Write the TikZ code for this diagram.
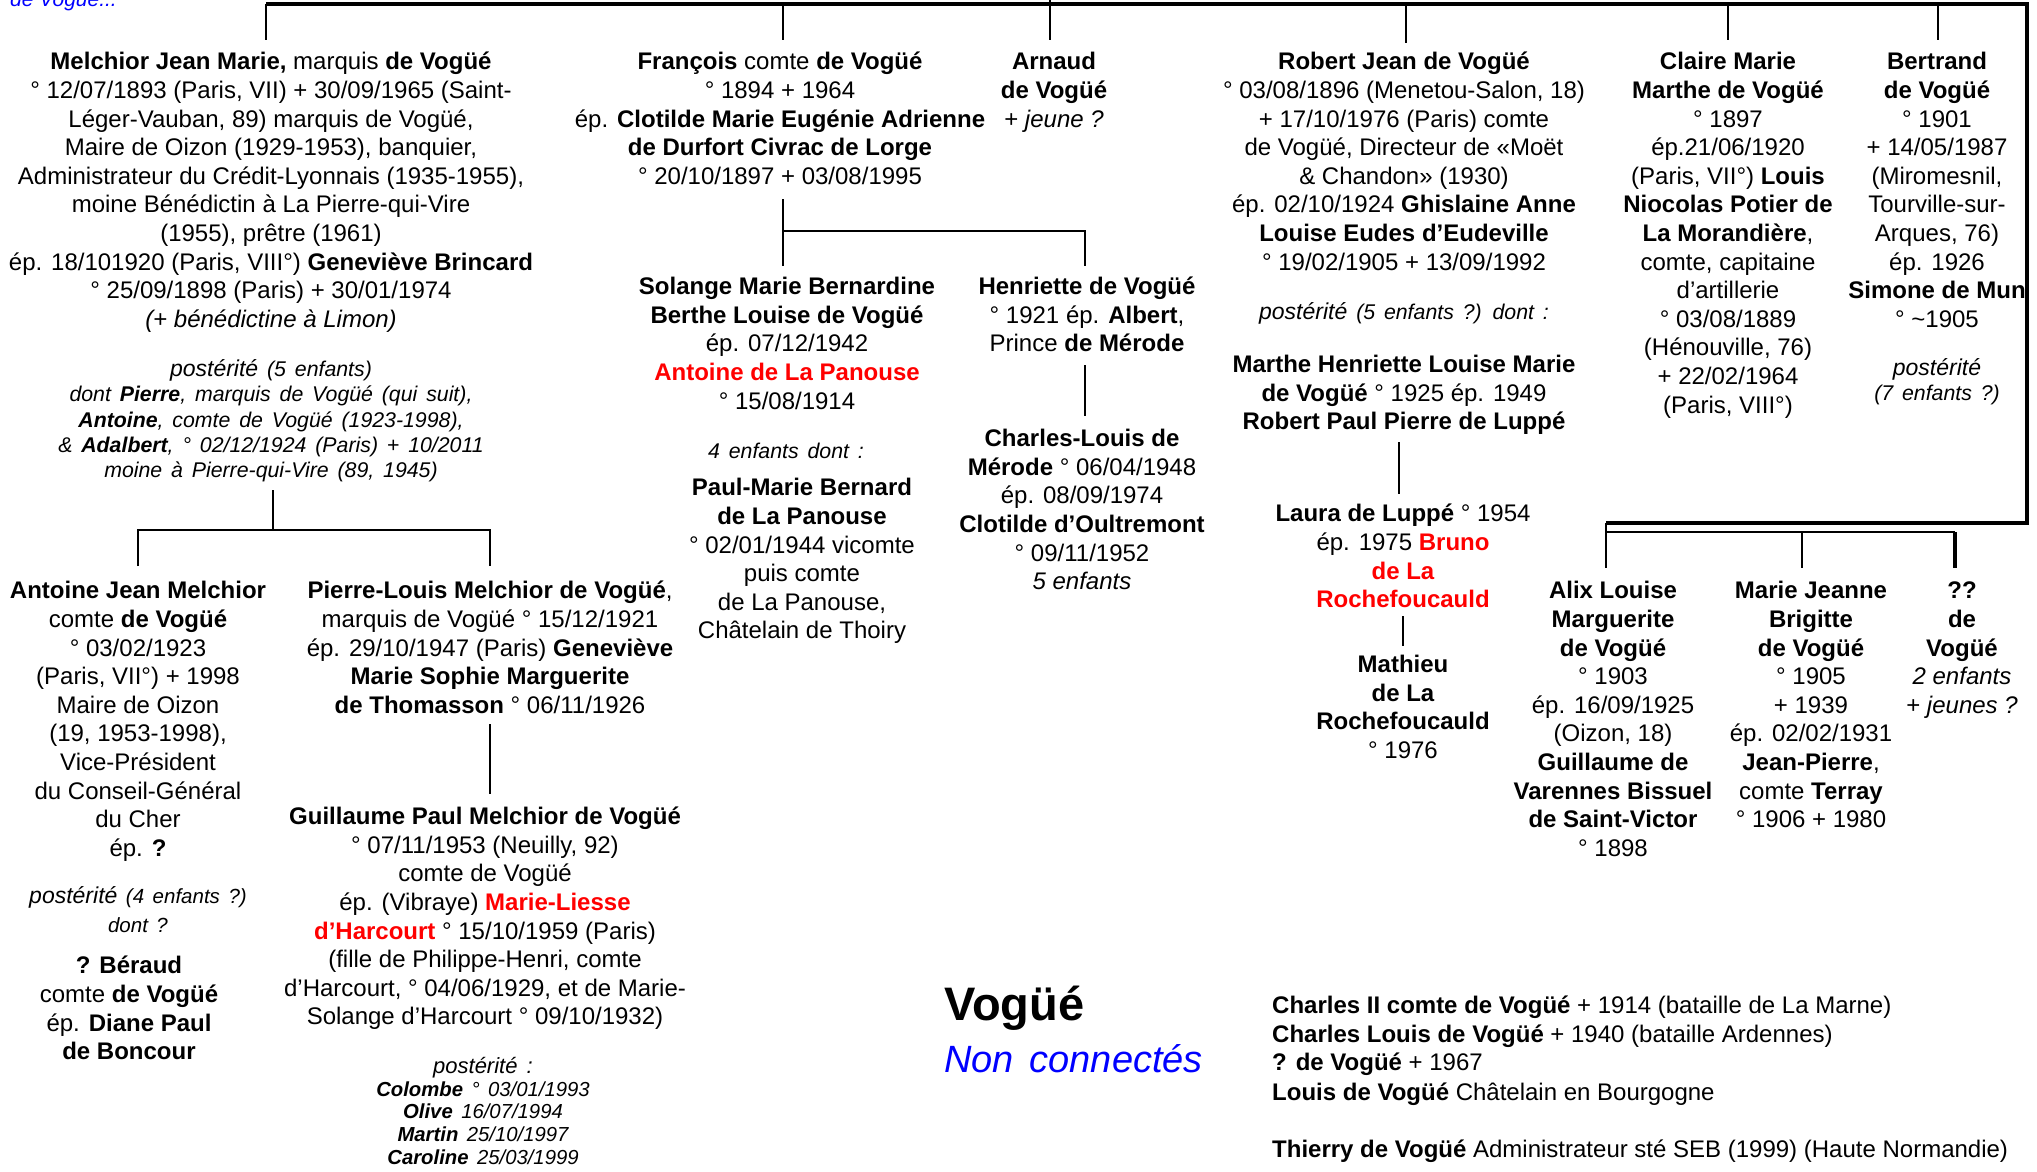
\documentclass[tikz,border=0pt]{standalone}
\usepackage{fontspec}
\setmainfont{Liberation Sans}
\newfontfamily\widefont{Liberation Sans}[WordSpace=1.5]
\definecolor{hred}{RGB}{255,0,0}
\definecolor{hblue}{RGB}{0,0,255}
\begin{document}
\begin{tikzpicture}[x=1pt,y=-1pt,
  txt/.style={align=center, inner sep=0pt, anchor=north, font=\fontsize{24}{28.6}\selectfont},
  post/.style={align=center, inner sep=0pt, anchor=north, font=\widefont\fontsize{21.3}{25.3}\selectfont\itshape},
  kid/.style={align=center, inner sep=0pt, anchor=north, font=\widefont\fontsize{20.3}{22.7}\selectfont\itshape},
  lone/.style={inner sep=0pt, anchor=base west, font=\fontsize{24}{28.6}\selectfont},
  ln/.style={line width=2.6pt},
  bus/.style={line width=3.6pt},
]
\useasboundingbox (0,0) rectangle (2037,1171);

% cut-off heading
\node[lone, font=\fontsize{21}{25}\selectfont\itshape, text=hblue] (cut) at (10,6) {de Vogüé...};

% ---------- generation 1 ----------
\node[txt] (mel) at (271,49.6) {\strut\textbf{Melchior Jean Marie,} marquis \textbf{de Vogüé}\\
° 12/07/1893 (Paris, VII) + 30/09/1965 (Saint-\\
Léger-Vauban, 89) marquis de Vogüé,\\
Maire de Oizon (1929-1953), banquier,\\
Administrateur du Crédit-Lyonnais (1935-1955),\\
moine Bénédictin à La Pierre-qui-Vire\\
(1955), prêtre (1961)\\
ép. 18/101920 (Paris, VIII°) \textbf{Geneviève Brincard}\\
° 25/09/1898 (Paris) + 30/01/1974\\
\textit{(+ bénédictine à Limon)}};
\node[post] (melp) at (271,358.5) {\strut{\fontsize{23}{25.3}\selectfont postérité} (5 enfants)\\
dont \textbf{Pierre}, marquis de Vogüé (qui suit),\\
\textbf{Antoine}, comte de Vogüé (1923-1998),\\
\& \textbf{Adalbert}, ° 02/12/1924 (Paris) + 10/2011\\
moine à Pierre-qui-Vire (89, 1945)};

\node[txt] (fra) at (780,49.6) {\strut\textbf{François} comte \textbf{de Vogüé}\\
° 1894 + 1964\\
ép. \textbf{Clotilde Marie Eugénie Adrienne}\\
\textbf{de Durfort Civrac de Lorge}\\
° 20/10/1897 + 03/08/1995};

\node[txt] (arn) at (1054,49.6) {\strut\textbf{Arnaud}\\ \textbf{de Vogüé}\\ + \textit{jeune ?}};

\node[txt] (rob) at (1404,49.6) {\strut\textbf{Robert Jean de Vogüé}\\
° 03/08/1896 (Menetou-Salon, 18)\\
+ 17/10/1976 (Paris) comte\\
de Vogüé, Directeur de «Moët\\
\& Chandon» (1930)\\
ép. 02/10/1924 \textbf{Ghislaine Anne}\\
\textbf{Louise Eudes d’Eudeville}\\
° 19/02/1905 + 13/09/1992};
\node[post] (robp) at (1404,301.5) {\strut{\fontsize{23}{25.3}\selectfont postérité} (5 enfants ?) dont :};

\node[txt] (cla) at (1728,49.6) {\strut\textbf{Claire Marie}\\
\textbf{Marthe de Vogüé}\\
° 1897\\
ép.21/06/1920\\
(Paris, VII°) \textbf{Louis}\\
\textbf{Niocolas Potier de}\\
\textbf{La Morandière},\\
comte, capitaine\\
d’artillerie\\
° 03/08/1889\\
(Hénouville, 76)\\
+ 22/02/1964\\
(Paris, VIII°)};

\node[txt] (bert) at (1937,49.6) {\strut\textbf{Bertrand}\\
\textbf{de Vogüé}\\
° 1901\\
+ 14/05/1987\\
(Miromesnil,\\
Tourville-sur-\\
Arques, 76)\\
ép. 1926\\
\textbf{Simone de Mun}\\
° \textasciitilde1905};
\node[post] (bertp) at (1937,357.5) {\strut{\fontsize{23}{25.3}\selectfont postérité}\\ (7 enfants ?)};

% ---------- generation 2 ----------
\node[txt] (ant) at (138,578.6) {\strut\textbf{Antoine Jean Melchior}\\
comte \textbf{de Vogüé}\\
° 03/02/1923\\
(Paris, VII°) + 1998\\
Maire de Oizon\\
(19, 1953-1998),\\
Vice-Président\\
du Conseil-Général\\
du Cher\\
ép. \textbf{?}};
\node[post, font=\widefont\fontsize{20.5}{28.6}\selectfont\itshape] (antp) at (138,883.5) {\strut{\fontsize{23}{28.6}\selectfont postérité} (4 enfants ?)\\ dont ?};
\node[txt] (ber) at (129,953.6) {\strut\textbf{? Béraud}\\
comte \textbf{de Vogüé}\\
ép. \textbf{Diane Paul}\\
\textbf{de Boncour}};

\node[txt] (pl) at (490,578.6) {\strut\textbf{Pierre-Louis Melchior de Vogüé},\\
marquis de Vogüé ° 15/12/1921\\
ép. 29/10/1947 (Paris) \textbf{Geneviève}\\
\textbf{Marie Sophie Marguerite}\\
\textbf{de Thomasson} ° 06/11/1926};

\node[txt] (gui) at (485,804.4) {\strut\textbf{Guillaume Paul Melchior de Vogüé}\\
° 07/11/1953 (Neuilly, 92)\\
comte de Vogüé\\
ép. (Vibraye) \textcolor{hred}{\textbf{Marie-Liesse}}\\
\textcolor{hred}{\textbf{d’Harcourt}} ° 15/10/1959 (Paris)\\
(fille de Philippe-Henri, comte\\
d’Harcourt, ° 04/06/1929, et de Marie-\\
Solange d’Harcourt ° 09/10/1932)};
\node[kid] (guip) at (483,1057) {\strut{\fontsize{22}{22.7}\selectfont postérité :}\\
\textbf{Colombe} ° 03/01/1993\\
\textbf{Olive} 16/07/1994\\
\textbf{Martin} 25/10/1997\\
\textbf{Caroline} 25/03/1999};

\node[txt] (sol) at (787,274.4) {\strut\textbf{Solange Marie Bernardine}\\
\textbf{Berthe Louise de Vogüé}\\
ép. 07/12/1942\\
\textcolor{hred}{\textbf{Antoine de La Panouse}}\\
° 15/08/1914};
\node[post] (solp) at (786,440.5) {\strut 4 enfants dont :};
\node[txt] (pau) at (802,475.6) {\strut\textbf{Paul-Marie Bernard}\\
\textbf{de La Panouse}\\
° 02/01/1944 vicomte\\
puis comte\\
de La Panouse,\\
Châtelain de Thoiry};

\node[txt] (hen) at (1087,274.4) {\strut\textbf{Henriette de Vogüé}\\
° 1921 ép. \textbf{Albert},\\
Prince \textbf{de Mérode}};
\node[txt] (chl) at (1082,426.4) {\strut\textbf{Charles-Louis de}\\
\textbf{Mérode} ° 06/04/1948\\
ép. 08/09/1974\\
\textbf{Clotilde d’Oultremont}\\
° 09/11/1952\\
\textit{5 enfants}};

\node[txt] (mar) at (1404,352.4) {\strut\textbf{Marthe Henriette Louise Marie}\\
\textbf{de Vogüé} ° 1925 ép. 1949\\
\textbf{Robert Paul Pierre de Luppé}};
\node[txt] (lau) at (1403,501.6) {\strut\textbf{Laura de Luppé} ° 1954\\
ép. 1975 \textcolor{hred}{\textbf{Bruno}}\\
\textcolor{hred}{\textbf{de La}}\\
\textcolor{hred}{\textbf{Rochefoucauld}}};
\node[txt] (mat) at (1403,652.4) {\strut\textbf{Mathieu}\\
\textbf{de La}\\
\textbf{Rochefoucauld}\\
° 1976};

\node[txt] (ali) at (1613,578.6) {\strut\textbf{Alix Louise}\\
\textbf{Marguerite}\\
\textbf{de Vogüé}\\
° 1903\\
ép. 16/09/1925\\
(Oizon, 18)\\
\textbf{Guillaume de}\\
\textbf{Varennes Bissuel}\\
\textbf{de Saint-Victor}\\
° 1898};
\node[txt] (mje) at (1811,578.6) {\strut\textbf{Marie Jeanne}\\
\textbf{Brigitte}\\
\textbf{de Vogüé}\\
° 1905\\
+ 1939\\
ép. 02/02/1931\\
\textbf{Jean-Pierre},\\
comte \textbf{Terray}\\
° 1906 + 1980};
\node[txt] (unk) at (1962,578.6) {\strut\textbf{??}\\
\textbf{de}\\
\textbf{Vogüé}\\
\textit{2 enfants}\\
+ \textit{jeunes ?}};

% ---------- unconnected ----------
\node[lone, font=\fontsize{47}{50}\selectfont\bfseries] (vog) at (944,1020) {Vogüé};
\node[lone, font=\widefont\fontsize{38}{42}\selectfont\itshape, text=hblue] (nonc) at (944,1072) {Non connectés};
\node[lone] (u1) at (1272,1013) {\textbf{Charles II comte de Vogüé} + 1914 (bataille de La Marne)};
\node[lone] (u2) at (1272,1042) {\textbf{Charles Louis de Vogüé} + 1940 (bataille Ardennes)};
\node[lone] (u3) at (1272,1070) {\textbf{? de Vogüé} + 1967};
\node[lone] (u4) at (1272,1100) {\textbf{Louis de Vogüé} Châtelain en Bourgogne};
\node[lone] (u5) at (1272,1157) {\textbf{Thierry de Vogüé} Administrateur sté SEB (1999) (Haute Normandie)};

% ---------- connectors ----------
\coordinate (busL) at (266,4);
\coordinate (busR) at (2027,4);
\coordinate (busC) at (2027,523);
\coordinate (busE) at (1606,523);
\draw[bus] (busL) -- (busR) -- (busC) -- (busE);
\coordinate (parentTop) at (1050,-6);
\coordinate (arnIn) at (1050,40);
\draw[ln] (parentTop) -- (arnIn);
\coordinate (melIn) at (266,40);
\coordinate (fraIn) at (783,40);
\coordinate (robIn) at (1406,43);
\coordinate (claIn) at (1728,40);
\coordinate (bertIn) at (1938,40);
\foreach \c in {melIn,fraIn,robIn,claIn,bertIn} \draw[ln] (\c |- busL) -- (\c);

% Melchior -> Antoine, Pierre-Louis
\coordinate (melOut) at (273,490);
\coordinate (melBus) at (273,530);
\coordinate (antIn) at (138,566);
\coordinate (plIn) at (490,566);
\draw[ln] (melOut) -- (melBus);
\draw[ln] (antIn) |- (melBus) -| (plIn);
% Pierre-Louis -> Guillaume
\coordinate (plOut) at (490,724);
\coordinate (guiIn) at (490,794);
\draw[ln] (plOut) -- (guiIn);
% François -> Solange, Henriette
\coordinate (fraOut) at (783,199);
\coordinate (fraBus) at (783,231);
\coordinate (solIn) at (783,266);
\coordinate (henIn) at (1085,266);
\draw[ln] (fraOut) -- (solIn);
\draw[ln] (fraBus) -| (henIn);
% Henriette -> Charles-Louis
\coordinate (henOut) at (1085,365);
\coordinate (chlIn) at (1085,416);
\draw[ln] (henOut) -- (chlIn);
% Marthe -> Laura -> Mathieu
\coordinate (marOut) at (1399,442);
\coordinate (lauIn) at (1399,494);
\draw[ln] (marOut) -- (lauIn);
\coordinate (lauOut) at (1403,616);
\coordinate (matIn) at (1403,646);
\draw[ln] (lauOut) -- (matIn);
% right family
\coordinate (aliIn) at (1606,568);
\coordinate (sibBus) at (1606,532);
\coordinate (mjeIn) at (1802,568);
\coordinate (unkIn) at (1955,568);
\draw[ln] (busE) -- (aliIn);
\draw[ln] (sibBus) -- (sibBus -| unkIn);
\draw[ln] (mjeIn |- sibBus) -- (mjeIn);
\draw[line width=4.5pt] (unkIn |- sibBus) -- (unkIn);
\end{tikzpicture}
\end{document}
